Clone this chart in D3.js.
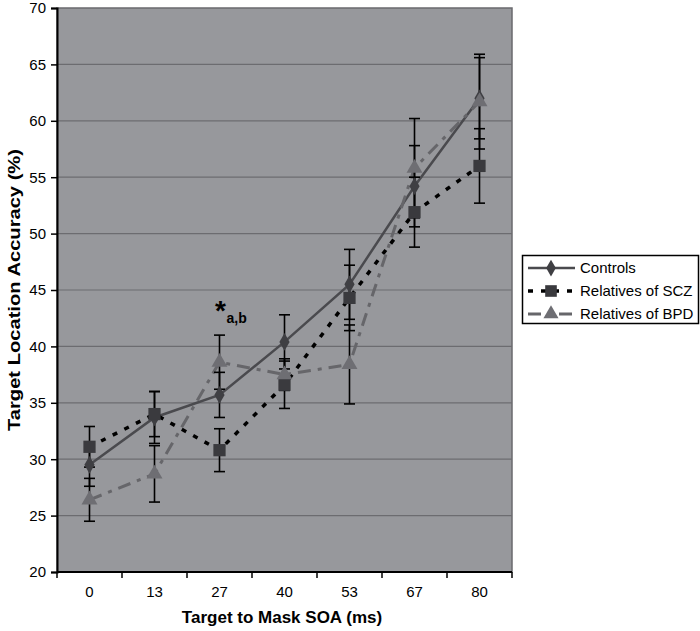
<!DOCTYPE html>
<html>
<head>
<meta charset="utf-8">
<script src="https://cdn.jsdelivr.net/npm/d3@7"></script>
<style>
  body { margin: 0; background: #fff; }
  svg text { font-family: Arial, "Liberation Sans", sans-serif; }
</style>
</head>
<body>
<script>
var soa = ["0", "13", "27", "40", "53", "67", "80"];
var yTicks = [20, 25, 30, 35, 40, 45, 50, 55, 60, 65, 70];

var controls = [29.5, 33.7, 35.7, 40.4, 45.5, 54.2, 62.0];
var controlsErr = [1.9, 2.3, 2.0, 2.4, 3.1, 3.6, 3.6];
var scz = [31.1, 34.0, 30.8, 36.6, 44.3, 51.9, 56.0];
var sczErr = [1.8, 2.0, 1.9, 2.1, 2.9, 3.1, 3.3];
var bpd = [26.4, 28.7, 38.6, 37.5, 38.4, 55.8, 61.7];
var bpdErr = [1.9, 2.5, 2.4, 1.4, 3.5, 4.4, 4.2];

var seriesNames = ["Controls", "Relatives of SCZ", "Relatives of BPD"];

(function drawChart() {

var W = 700, H = 631;
var pLeft = 57, pTop = 8, pRight = 512, pBottom = 572;

var svg = d3.select("body").append("svg")
  .attr("width", W)
  .attr("height", H);

var x = d3.scaleBand().domain(soa).range([pLeft, pRight]);
var y = d3.scaleLinear().domain([20, 70]).range([pBottom, pTop]);

// plot background
svg.append("rect")
  .attr("x", pLeft).attr("y", pTop)
  .attr("width", pRight - pLeft).attr("height", pBottom - pTop)
  .attr("fill", "#97989c")
  .attr("stroke", "#6a6a6e").attr("stroke-width", 1.5);

// gridlines
svg.append("g").selectAll("line")
  .data(yTicks.slice(1, -1))
  .enter().append("line")
  .attr("x1", pLeft).attr("x2", pRight)
  .attr("y1", function(d) { return y(d); })
  .attr("y2", function(d) { return y(d); })
  .attr("stroke", "#6c6c70").attr("stroke-width", 1.2);

// y axis
var yAxis = svg.append("g")
  .attr("transform", "translate(" + pLeft + ",0)")
  .call(d3.axisLeft(y).tickValues(yTicks).tickSize(6).tickPadding(5));
yAxis.select(".domain").attr("stroke", "#000").attr("stroke-width", 2);
yAxis.selectAll(".tick line").attr("stroke", "#000").attr("stroke-width", 1.5);
yAxis.selectAll("text").attr("font-size", 15).attr("fill", "#000");

// x axis, ticks sit between categories
var xAxis = svg.append("g")
  .attr("transform", "translate(0," + pBottom + ")");
xAxis.append("line")
  .attr("x1", pLeft).attr("x2", pRight)
  .attr("stroke", "#000").attr("stroke-width", 2);
xAxis.selectAll(".xt")
  .data(soa.concat(["end"]))
  .enter().append("line")
  .attr("x1", function(d, i) { return pLeft + i * x.step(); })
  .attr("x2", function(d, i) { return pLeft + i * x.step(); })
  .attr("y1", 0).attr("y2", 6)
  .attr("stroke", "#000").attr("stroke-width", 1.5);
xAxis.selectAll("text")
  .data(soa)
  .enter().append("text")
  .attr("x", function(d) { return x(d) + x.bandwidth() / 2; })
  .attr("y", 25)
  .attr("text-anchor", "middle")
  .attr("font-size", 15)
  .text(function(d) { return d; });

// axis titles
svg.append("text")
  .attr("transform", "translate(20," + ((pTop + pBottom) / 2) + ") rotate(-90)")
  .attr("text-anchor", "middle")
  .attr("font-size", 17).attr("font-weight", "bold")
  .attr("textLength", 282).attr("lengthAdjust", "spacingAndGlyphs")
  .text("Target Location Accuracy (%)");
svg.append("text")
  .attr("x", 282).attr("y", 623)
  .attr("text-anchor", "middle")
  .attr("font-size", 17).attr("font-weight", "bold")
  .text("Target to Mask SOA (ms)");

var cx = function(i) { return x(soa[i]) + x.bandwidth() / 2; };

var styles = [
  { values: controls, err: controlsErr, color: "#4a4a4e", dash: null, width: 2.5, marker: d3.symbolDiamond, mColor: "#3f3f43", mSize: 90 },
  { values: scz, err: sczErr, color: "#000", dash: "5,8", width: 3.5, marker: d3.symbolSquare, mColor: "#3a3a3e", mSize: 150 },
  { values: bpd, err: bpdErr, color: "#66666a", dash: "13,7,4,7", width: 3, marker: d3.symbolTriangle, mColor: "#6e6e73", mSize: 110 }
];

var line = d3.line()
  .x(function(d, i) { return cx(i); })
  .y(function(d) { return y(d); });

styles.forEach(function(s) {
  svg.append("path")
    .datum(s.values)
    .attr("d", line)
    .attr("fill", "none")
    .attr("stroke", s.color)
    .attr("stroke-width", s.width)
    .attr("stroke-dasharray", s.dash);
});

// error bars
styles.forEach(function(s) {
  var g = svg.append("g");
  s.values.forEach(function(v, i) {
    var lo = y(v - s.err[i]), hi = y(v + s.err[i]);
    g.append("line").attr("x1", cx(i)).attr("x2", cx(i))
      .attr("y1", lo).attr("y2", hi)
      .attr("stroke", "#000").attr("stroke-width", 1.6);
    [lo, hi].forEach(function(yy) {
      g.append("line").attr("x1", cx(i) - 5.5).attr("x2", cx(i) + 5.5)
        .attr("y1", yy).attr("y2", yy)
        .attr("stroke", "#000").attr("stroke-width", 1.6);
    });
  });
});

// markers
styles.forEach(function(s) {
  svg.append("g").selectAll("path")
    .data(s.values)
    .enter().append("path")
    .attr("transform", function(d, i) { return "translate(" + cx(i) + "," + y(d) + ")"; })
    .attr("d", d3.symbol().type(s.marker).size(s.mSize))
    .attr("fill", s.mColor);
});

// significance mark at 27 ms
svg.append("text")
  .attr("x", cx(2) + 1).attr("y", 320)
  .attr("text-anchor", "middle")
  .attr("font-size", 28).attr("font-weight", "bold")
  .text("*");
svg.append("text")
  .attr("x", cx(2) + 7).attr("y", 323)
  .attr("font-size", 14).attr("font-weight", "bold")
  .text("a,b");

// legend
var lg = svg.append("g");
lg.append("rect")
  .attr("x", 522.5).attr("y", 255.5)
  .attr("width", 176).attr("height", 68)
  .attr("fill", "#fff").attr("stroke", "#000").attr("stroke-width", 1.5);
styles.forEach(function(s, i) {
  var ly = 268 + i * 23;
  lg.append("line")
    .attr("x1", 528).attr("x2", 575)
    .attr("y1", ly).attr("y2", ly)
    .attr("stroke", s.color).attr("stroke-width", s.width)
    .attr("stroke-dasharray", s.dash);
  lg.append("path")
    .attr("transform", "translate(551," + ly + ")")
    .attr("d", d3.symbol().type(s.marker).size(s.mSize * 0.9))
    .attr("fill", s.mColor);
  lg.append("text")
    .attr("x", 580).attr("y", ly + 5)
    .attr("font-size", 15)
    .text(seriesNames[i]);
});

})();
</script>
</body>
</html>
